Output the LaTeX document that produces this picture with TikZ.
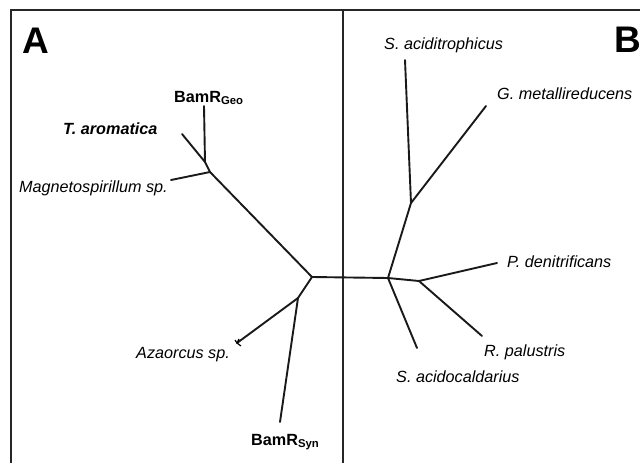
\documentclass[tikz,border=0pt]{standalone}
\usepackage{fontspec}
\setmainfont{Liberation Sans}
\begin{document}
\begin{tikzpicture}[x=1pt,y=-1pt,
  frame/.style={draw=black!85,line width=1.1pt},
  branch/.style={draw=black!90,line width=1.9pt,line cap=round,line join=round},
  taxon/.style={inner sep=0pt,anchor=base west,font=\fontsize{16.2}{19}\selectfont\itshape},
  boldtaxon/.style={inner sep=0pt,anchor=base west,font=\fontsize{16.2}{19}\selectfont\bfseries},
  panel/.style={inner sep=0pt,anchor=base west,font=\fontsize{37}{42}\selectfont\bfseries}]
\useasboundingbox (0,0) rectangle (640,463);
% frame
\coordinate (fTL) at (11,10);
\coordinate (fTR) at (640,10);
\coordinate (fBL) at (11,463);
\coordinate (dT) at (343,10);
\coordinate (dB) at (343,463);
\draw[frame] (fBL) -- (fTL) -- (fTR);
\draw[frame] (dT) -- (dB);
% panel letters
\node[panel] (A) at (22,53) {A};
\node[panel] (B) at (614,52) {B};
% tree A coordinates
\coordinate (geoTip) at (204,106);
\coordinate (taroTip) at (182,134);
\coordinate (jGeo) at (205,162);
\coordinate (jA1) at (210,172);
\coordinate (magTip) at (171,180);
\coordinate (cA) at (312,277);
\coordinate (jSyn) at (298,298);
\coordinate (azoTip) at (237,343);
\coordinate (synTip) at (280,422);
% tree B coordinates
\coordinate (cB) at (388,278);
\coordinate (jB1) at (411,203);
\coordinate (sacTip) at (405,60);
\coordinate (gmeTip) at (486,106);
\coordinate (jB2) at (419,281);
\coordinate (pdeTip) at (497,263);
\coordinate (rpaTip) at (482,336);
\coordinate (sadTip) at (417,348);
% branches A
\draw[branch] (geoTip) -- (jGeo);
\draw[branch] (taroTip) -- (jGeo);
\draw[branch] (jGeo) -- (jA1);
\draw[branch] (magTip) -- (jA1);
\draw[branch] (jA1) -- (cA);
\draw[branch] (cA) -- (cB);
\draw[branch] (cA) -- (jSyn);
\draw[branch] (jSyn) -- (azoTip);
\draw[branch] (jSyn) -- (synTip);
\draw[line width=1.2pt] (azoTip) -- ++(-2,-3) (azoTip) -- ++(4,3) (azoTip) -- ++(2,-4);
% branches B
\draw[branch] (cB) -- (jB1);
\draw[branch] (jB1) -- (sacTip);
\draw[branch] (jB1) -- (gmeTip);
\draw[branch] (cB) -- (jB2);
\draw[branch] (jB2) -- (pdeTip);
\draw[branch] (jB2) -- (rpaTip);
\draw[branch] (cB) -- (sadTip);
% labels A
\node[boldtaxon] (geo) at (174,102) {BamR\textsubscript{Geo}};
\node[boldtaxon,font=\fontsize{16.2}{19}\selectfont\bfseries\itshape] (taro) at (63,134) {T. aromatica};
\node[taxon] (mag) at (19,192) {Magnetospirillum sp.};
\node[taxon] (azo) at (136,358) {Azaorcus sp.};
\node[boldtaxon] (syn) at (251,445) {BamR\textsubscript{Syn}};
% labels B
\node[taxon] (sac) at (384,49) {S. aciditrophicus};
\node[taxon] (gme) at (497,99) {G. metallireducens};
\node[taxon] (pde) at (507,267) {P. denitrificans};
\node[taxon] (rpa) at (484,356) {R. palustris};
\node[taxon] (sad) at (396,382) {S. acidocaldarius};
\end{tikzpicture}
\end{document}
